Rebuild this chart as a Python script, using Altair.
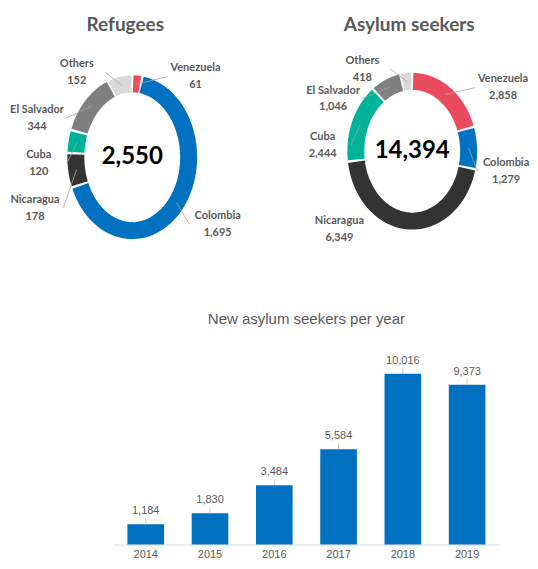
import altair as alt
import pandas as pd

# ---------------- data ----------------
countries = ["Venezuela", "Colombia", "Nicaragua", "Cuba", "El Salvador", "Others"]
refugees = [61, 1695, 178, 120, 344, 152]
asylum_seekers = [2858, 1279, 6349, 2444, 1046, 418]
years = ["2014", "2015", "2016", "2017", "2018", "2019"]
new_asylum = [1184, 1830, 3484, 5584, 10016, 9373]

# ---------------- style ----------------
slice_colors = ["#EB4B5F", "#0070C0", "#333333", "#00B398", "#7F7F7F", "#D9D9D9"]
BAR_BLUE = "#0070C0"
GREY_TXT = "#595959"
HUM = "Lato, sans-serif"
SANS = "Liberation Sans, Arial, sans-serif"

# label placement: (angle nudge from slice mid-angle in degrees, radius in ring units, leader line)
ref_label_style = {
    "Venezuela": (41.3, 1.57, 1),
    "Colombia": (-7.1, 1.77, 1),
    "Nicaragua": (-12.4, 1.86, 1),
    "Cuba": (-14.3, 1.66, 1),
    "El Salvador": (-26.9, 1.77, 1),
    "Others": (-29.6, 1.52, 1),
}
asy_label_style = {
    "Venezuela": (24.8, 1.85, 1),
    "Colombia": (12.5, 1.69, 1),
    "Nicaragua": (46.2, 1.71, 0),
    "Cuba": (-19.9, 1.59, 1),
    "El Salvador": (-38.4, 1.59, 1),
    "Others": (-31.7, 1.47, 1),
}


def donut(values, title, panel_w, panel_h, cx, cy, rx, ry, title_x, label_style):
    df = pd.DataFrame({
        "country": countries,
        "value": values,
        "order": list(range(len(countries))),
        "nudge": [label_style[c][0] for c in countries],
        "lr": [label_style[c][1] for c in countries],
        "leader": [label_style[c][2] for c in countries],
    })
    xs = alt.Scale(domain=[-1, 1], range=[cx - rx, cx + rx], nice=False, zero=False)
    ys = alt.Scale(domain=[-1, 1], range=[cy + ry, cy - ry], nice=False, zero=False)

    base = (
        alt.Chart(df)
        .transform_joinaggregate(total="sum(value)")
        .transform_window(cum="sum(value)", sort=[alt.SortField("order")], frame=[None, 0])
        .transform_calculate(
            a0="2*PI*(datum.cum-datum.value)/datum.total",
            a1="2*PI*datum.cum/datum.total",
        )
        .transform_calculate(
            mid="(datum.a0+datum.a1)/2",
            la="(datum.a0+datum.a1)/2 + datum.nudge*PI/180",
        )
        .transform_calculate(
            lx="datum.lr*sin(datum.la)",
            ly="datum.lr*cos(datum.la)",
        )
    )

    ring = (
        base.transform_calculate(g="min(0.016, (datum.a1-datum.a0)/4)")
        .transform_calculate(
            b0="datum.a0+datum.g",
            b1="datum.a1-datum.g",
            k="sequence(0, 61)",
        )
        .transform_flatten(["k"])
        .transform_calculate(
            ang="datum.b0+(datum.b1-datum.b0)*datum.k/60",
            ex="sin(datum.ang)",
            ey="cos(datum.ang)",
        )
        .mark_line(strokeWidth=17, strokeCap="butt")
        .encode(
            x=alt.X("ex:Q", scale=xs, axis=None),
            y=alt.Y("ey:Q", scale=ys, axis=None),
            color=alt.Color("country:N", scale=alt.Scale(domain=countries, range=slice_colors), legend=None),
            detail="country:N",
            order=alt.Order("k:Q"),
        )
    )

    leaders = (
        base.transform_filter("datum.leader > 0")
        .transform_calculate(
            sx="sin(datum.mid)",
            sy="cos(datum.mid)",
            tx="datum.lx - (datum.lx > 0 ? 0.5 : -0.5)",
            ty="datum.ly",
        )
        .mark_rule(color="#A6A6A6", strokeWidth=0.8)
        .encode(
            x=alt.X("sx:Q", scale=xs, axis=None),
            y=alt.Y("sy:Q", scale=ys, axis=None),
            x2=alt.X2("tx"),
            y2=alt.Y2("ty"),
        )
    )

    lab = base.transform_calculate(vtxt="format(datum.value, ',')")
    names = lab.mark_text(
        font=HUM, fontSize=11, fontWeight="bold", color=GREY_TXT, dy=-8.5
    ).encode(
        x=alt.X("lx:Q", scale=xs, axis=None),
        y=alt.Y("ly:Q", scale=ys, axis=None),
        text="country:N",
    )
    vals = lab.mark_text(
        font=HUM, fontSize=11, fontWeight="bold", color=GREY_TXT, dy=8.5
    ).encode(
        x=alt.X("lx:Q", scale=xs, axis=None),
        y=alt.Y("ly:Q", scale=ys, axis=None),
        text="vtxt:N",
    )

    center = (
        alt.Chart(df)
        .transform_aggregate(total="sum(value)")
        .transform_calculate(t="format(datum.total, ',')", z="0")
        .mark_text(font=HUM, fontSize=24, fontWeight="bold", color="#000000", baseline="middle")
        .encode(
            x=alt.X("z:Q", scale=xs, axis=None),
            y=alt.Y("z:Q", scale=ys, axis=None),
            text="t:N",
        )
    )

    ttl = (
        alt.Chart(pd.DataFrame({"title": [title]}))
        .mark_text(font=HUM, fontSize=19, fontWeight="bold", color=GREY_TXT, baseline="alphabetic")
        .encode(x=alt.value(title_x), y=alt.value(23), text="title:N")
    )

    return alt.layer(ring, leaders, names, vals, center, ttl).properties(width=panel_w, height=panel_h)


d1 = donut(refugees, "Refugees", 265, 262, 124.5, 149, 56.5, 73.5, 117.5, ref_label_style)
d2 = donut(asylum_seekers, "Asylum seekers", 257, 262, 140, 143, 56.5, 70, 137, asy_label_style)

# ---------------- bar chart ----------------
bdf = pd.DataFrame({"year": years, "value": new_asylum})
bx = alt.X(
    "year:N",
    sort=years,
    scale=alt.Scale(range=[105.8, 492.2], paddingInner=0.43, paddingOuter=0.215),
    axis=alt.Axis(
        title=None, labelAngle=0, ticks=False, domainColor="#D9D9D9", domainWidth=1,
        labelColor=GREY_TXT, labelFont=SANS, labelFontSize=11, labelPadding=4, grid=False,
    ),
)
by = alt.Y("value:Q", scale=alt.Scale(domain=[0, 16108], nice=False), axis=None)

bars = alt.Chart(bdf).mark_bar(color=BAR_BLUE).encode(x=bx, y=by)
bticks = alt.Chart(bdf).mark_rule(color="#BFBFBF", strokeWidth=0.8, y2Offset=-6).encode(
    x=bx, y=by, y2=alt.Y2("value")
)
btext = alt.Chart(bdf).mark_text(
    font=SANS, fontSize=11, color=GREY_TXT, baseline="bottom", dy=-8
).encode(x=bx, y=by, text=alt.Text("value:Q", format=","))
btitle = (
    alt.Chart(pd.DataFrame({"t": ["New asylum seekers per year"]}))
    .mark_text(font=SANS, fontSize=15, color=GREY_TXT, baseline="alphabetic")
    .encode(x=alt.value(299), y=alt.value(54.5), text="t:N")
)
barchart = alt.layer(bars, bticks, btext, btitle).properties(width=522, height=275)

top = alt.hconcat(d1, d2, spacing=0).resolve_scale(x="independent", y="independent")
chart = (
    alt.vconcat(top, barchart, spacing=0)
    .resolve_scale(x="independent", y="independent")
    .properties(padding=0)
    .configure_view(stroke=None)
)

chart.save("out.html", embed_options={"renderer": "svg", "actions": False})
